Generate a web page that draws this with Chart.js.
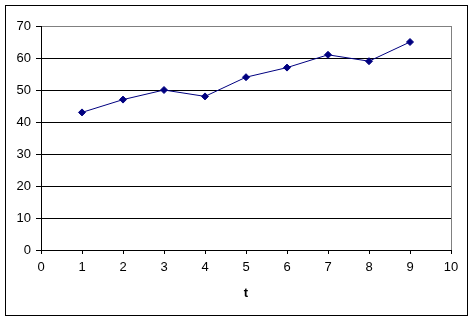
<!DOCTYPE html>
<html>
<head>
<meta charset="utf-8">
<script src="https://cdn.jsdelivr.net/npm/chart.js@4"></script>
<style>
  html, body { margin: 0; padding: 0; background: #fff; }
  #wrap { width: 475px; height: 321px; }
</style>
</head>
<body>
<div id="wrap"><canvas id="lineChart"></canvas></div>
<script>
const tValues = [1, 2, 3, 4, 5, 6, 7, 8, 9]; // x values
const yValues = [43, 47, 50, 48, 54, 57, 61, 59, 65]; // series values
const xAxisTitle = 't';

// border round the whole chart and the grey right edge of the plot area
const framePlugin = {
    id: 'frame',
    afterDraw(chart) {
        const ctx = chart.ctx;
        const area = chart.chartArea;
        ctx.save();
        ctx.strokeStyle = '#808080';
        ctx.lineWidth = 1;
        ctx.beginPath();
        ctx.moveTo(area.right + 0.5, area.top);
        ctx.lineTo(area.right + 0.5, area.bottom);
        ctx.stroke();
        ctx.strokeStyle = '#000';
        ctx.strokeRect(5.5, 5.5, 462, 310);
        ctx.restore();
    }
};

const points = tValues.map((t, i) => ({ x: t, y: yValues[i] }));

new Chart(document.getElementById('lineChart'), {
    type: 'line',
    data: {
        datasets: [
            {
                data: points,
                borderColor: '#000080',
                borderWidth: 1,
                backgroundColor: '#000080',
                pointStyle: 'rectRot',
                pointRadius: 3.5,
                pointBorderWidth: 1,
                tension: 0,
            },
        ],
    },
    options: {
        responsive: true,
        maintainAspectRatio: false,
        animation: false,
        layout: {
            padding: { left: 6, top: 26, right: 24, bottom: 20 },
        },
        scales: {
            x: {
                type: 'linear',
                min: 0,
                max: 10,
                ticks: {
                    stepSize: 1,
                    color: '#000',
                    padding: 6,
                    font: { family: 'Liberation Sans', size: 13 },
                },
                grid: {
                    drawOnChartArea: false,
                    drawTicks: true,
                    tickLength: 4,
                    color: '#000',
                },
                border: { color: '#000', width: 1 },
                title: {
                    display: true,
                    text: xAxisTitle,
                    color: '#000',
                    font: { family: 'Liberation Sans', size: 13, weight: 'bold' },
                    padding: { top: 4, bottom: 0 },
                },
                afterFit(scale) { scale.height = 51; },
            },
            y: {
                min: 0,
                max: 70,
                ticks: {
                    stepSize: 10,
                    color: '#000',
                    padding: 5,
                    font: { family: 'Liberation Sans', size: 13 },
                },
                grid: {
                    color: ctx => (ctx.tick && ctx.tick.value === 70 ? '#808080' : '#000'),
                    tickColor: '#000',
                    tickLength: 5,
                },
                border: { color: '#000', width: 1 },
                afterFit(scale) { scale.width = 35; },
            },
        },
        plugins: {
            legend: { display: false },
            tooltip: { enabled: false },
        },
    },
    plugins: [framePlugin],
});
</script>
</body>
</html>
